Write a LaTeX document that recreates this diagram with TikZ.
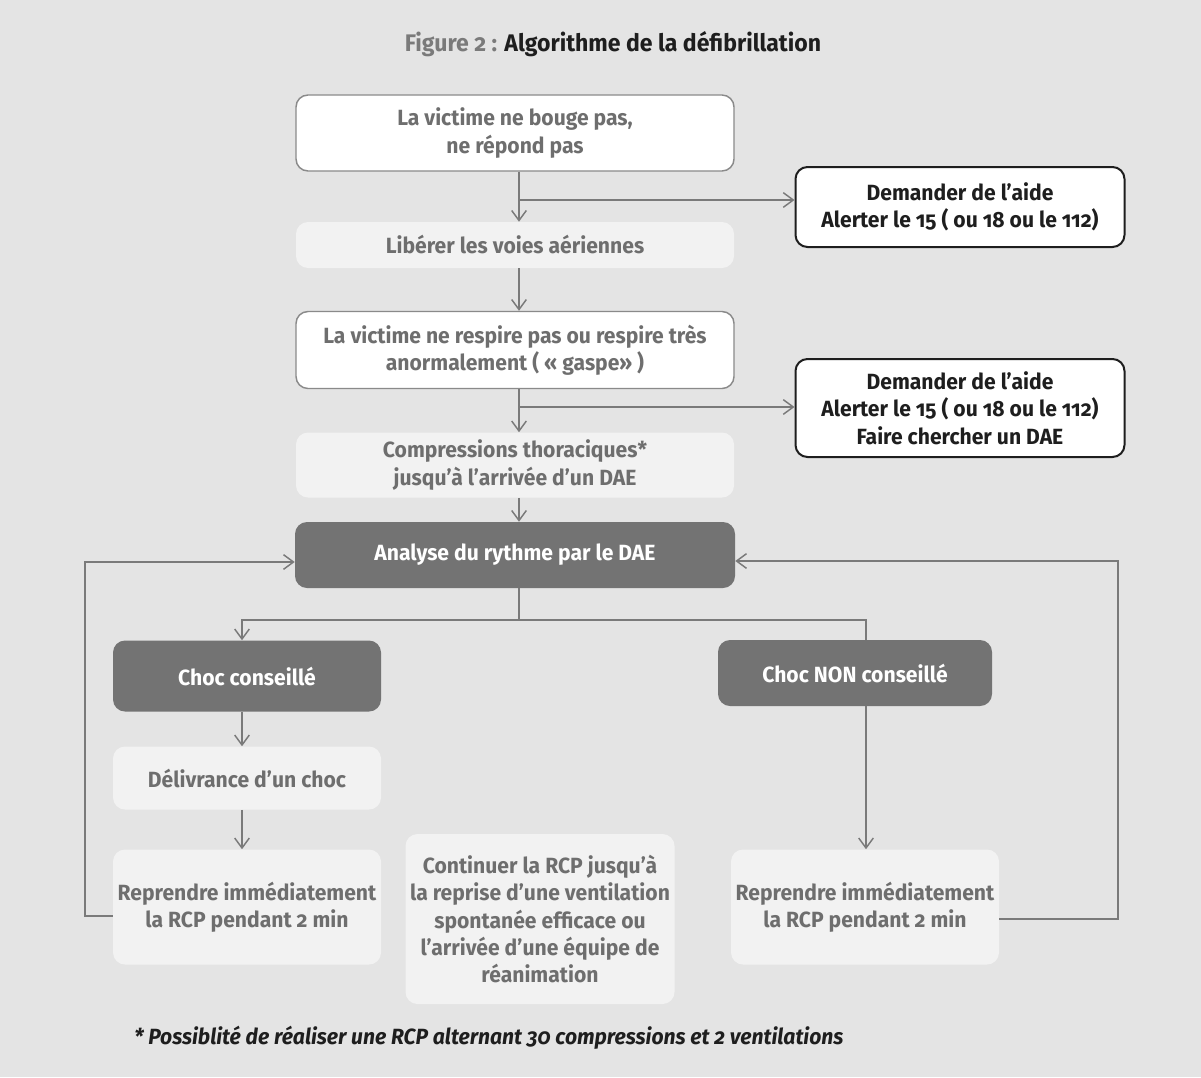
\documentclass[tikz,border=0pt]{standalone}
\usepackage{fontspec}
\setmainfont{Fira Sans}[RawFeature=+onum,FakeStretch=0.96]
\usetikzlibrary{arrows.meta}
\definecolor{bgc}{HTML}{E4E4E4}
\definecolor{lightc}{HTML}{F2F2F2}
\definecolor{darkc}{HTML}{737373}
\definecolor{txtc}{HTML}{6E6E6E}
\definecolor{linec}{HTML}{7A7A7A}
\definecolor{borderc}{HTML}{8A8A8A}
\definecolor{inkc}{HTML}{1E1E1E}
\tikzset{
  box/.style={rounded corners=9pt, align=center, inner sep=2pt,
    font=\bfseries\fontsize{16.5pt}{20.5pt}\selectfont},
  whitebox/.style={box, fill=white, draw=borderc, line width=1.1pt, text=txtc},
  lightbox/.style={box, fill=lightc, text=txtc},
  darkbox/.style={box, fill=darkc, text=white},
  alertbox/.style={box, fill=white, draw=inkc, line width=1.5pt, text=inkc},
  conn/.style={draw=linec, line width=1.1pt},
  arr/.style={conn, -{Straight Barb[length=7.5pt,width=11pt,line width=1.1pt]}},
}
\begin{document}
\begin{tikzpicture}[x=0.75pt,y=-0.75pt]
\fill[bgc] (0,0) rectangle (1201,1077);
\useasboundingbox (0,0) rectangle (1201,1077);

% title
\node[font=\bfseries\fontsize{18pt}{21pt}\selectfont] (title) at (613,44)
  {\textcolor{linec}{Figure 2 :} \textcolor{inkc}{Algorithme de la défibrillation}};

% main column
\node[whitebox, minimum width=438*0.75pt, minimum height=76*0.75pt] (b1) at (515,133)
  {La victime ne bouge pas,\\ne répond pas};
\node[lightbox, minimum width=438*0.75pt, minimum height=46*0.75pt] (b2) at (515,245)
  {Libérer les voies aériennes};
\node[whitebox, minimum width=438*0.75pt, minimum height=77*0.75pt] (b3) at (515,350)
  {La victime ne respire pas ou respire très\\anormalement ( « gaspe» )};
\node[lightbox, minimum width=438*0.75pt, minimum height=65*0.75pt] (b4) at (515,465)
  {Compressions thoraciques*\\jusqu’à l’arrivée d’un DAE};
\node[darkbox, minimum width=440*0.75pt, minimum height=66*0.75pt] (b5) at (515,555)
  {Analyse du rythme par le DAE};

% alert boxes
\node[alertbox, minimum width=329*0.75pt, minimum height=80*0.75pt] (r1) at (960,207)
  {Demander de l’aide\\Alerter le 15 ( ou 18 ou le 112)};
\node[alertbox, minimum width=329*0.75pt, minimum height=98*0.75pt] (r2) at (960,408)
  {Demander de l’aide\\Alerter le 15 ( ou 18 ou le 112)\\Faire chercher un DAE};

% branches
\node[darkbox, minimum width=268*0.75pt, minimum height=71*0.75pt] (c1) at (247,676)
  {Choc conseillé};
\node[darkbox, minimum width=274*0.75pt, minimum height=66*0.75pt] (c2) at (855,673)
  {Choc NON conseillé};
\node[lightbox, minimum width=268*0.75pt, minimum height=63*0.75pt] (d1) at (247,778)
  {Délivrance d’un choc};
\node[lightbox, minimum width=268*0.75pt, minimum height=115*0.75pt] (p1) at (247,907)
  {Reprendre immédiatement\\la RCP pendant 2 min};
\node[lightbox, minimum width=269*0.75pt, minimum height=170*0.75pt] (cont) at (540,919)
  {Continuer la RCP jusqu’à\\la reprise d’une ventilation\\spontanée efficace ou\\l’arrivée d’une équipe de\\réanimation};
\node[lightbox, minimum width=268*0.75pt, minimum height=115*0.75pt] (p2) at (865,907)
  {Reprendre immédiatement\\la RCP pendant 2 min};

% footnote
\node[anchor=west, inner sep=0pt, text=inkc,
  font=\bfseries\itshape\fontsize{16.5pt}{20pt}\selectfont] (note) at (134,1038)
  {* Possiblité de réaliser une RCP alternant 30 compressions et 2 ventilations};

% guide coordinates
\coordinate (spine) at (519,0);
\coordinate (lcol) at (242,0);
\coordinate (rcol) at (866,0);
\coordinate (j1) at (519,200);
\coordinate (j2) at (519,407);
\coordinate (split) at (519,620);
\coordinate (yl) at (0,916);
\coordinate (yr) at (0,919);
\coordinate (lx) at (85,562);
\coordinate (rx) at (1118,561);

% connectors
\draw[arr] (b1.south -| spine) -- (b2.north -| spine);
\draw[arr] (j1) -- (r1.west |- j1);
\draw[arr] (b2.south -| spine) -- (b3.north -| spine);
\draw[arr] (b3.south -| spine) -- (b4.north -| spine);
\draw[arr] (j2) -- (r2.west |- j2);
\draw[arr] (b4.south -| spine) -- (b5.north -| spine);
\draw[conn] (b5.south -| spine) -- (split);
\draw[arr] (split) -| (c1.north -| lcol);
\draw[conn] (split) -| (c2.north -| rcol);
\draw[arr] (c1.south -| lcol) -- (d1.north -| lcol);
\draw[arr] (d1.south -| lcol) -- (p1.north -| lcol);
\draw[arr] (c2.south -| rcol) -- (p2.north -| rcol);
\draw[arr] (p1.west |- yl) -| (lx) -- (b5.west |- lx);
\draw[arr] (p2.east |- yr) -| (rx) -- (b5.east |- rx);
\end{tikzpicture}
\end{document}
